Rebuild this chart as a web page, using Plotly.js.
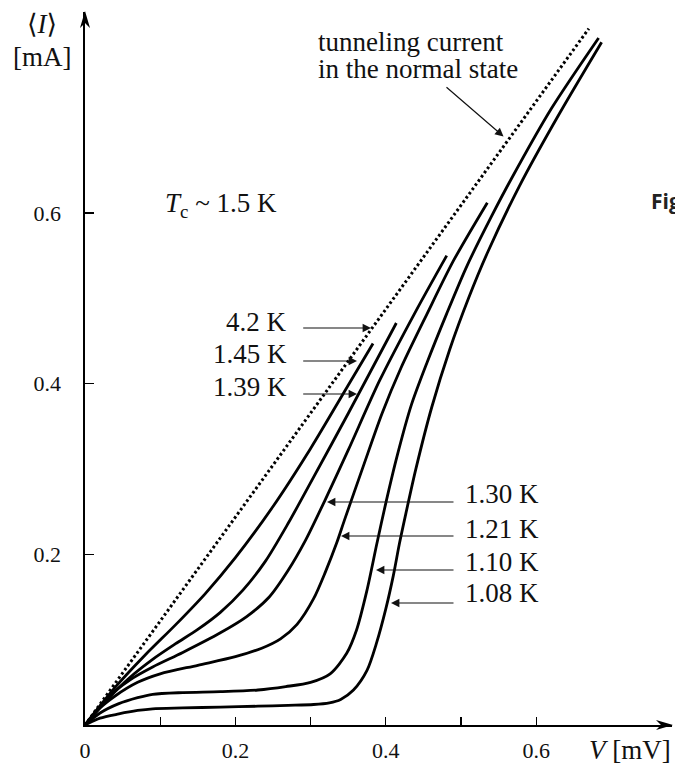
<!DOCTYPE html>
<html><head><meta charset="utf-8">
<script src="https://cdn.plot.ly/plotly-3.0.1.min.js"></script>
<style>html,body{margin:0;padding:0;background:#fff;overflow:hidden;} #chart{width:675px;height:765px;}</style>
</head><body><div id="chart"></div>
<script>
// ---- data (V in mV, I in mA) ----
const V_normal = [0, 0.67];
const I_normal = [0, 0.816];

const V_145 = [0, 0.04, 0.08, 0.12, 0.16, 0.20, 0.25, 0.30, 0.35, 0.383];
const I_145 = [0, 0.044, 0.082, 0.117, 0.154, 0.196, 0.256, 0.324, 0.398, 0.447];

const V_139 = [0, 0.03, 0.06, 0.09, 0.12, 0.15, 0.18, 0.21, 0.24, 0.27, 0.30, 0.35, 0.414];
const I_139 = [0, 0.030, 0.056, 0.077, 0.095, 0.112, 0.132, 0.158, 0.192, 0.236, 0.284, 0.365, 0.471];

const V_130 = [0, 0.03, 0.06, 0.09, 0.13, 0.18, 0.215, 0.245, 0.27, 0.293, 0.32, 0.35, 0.392, 0.44, 0.481];
const I_130 = [0, 0.032, 0.053, 0.068, 0.085, 0.108, 0.127, 0.150, 0.181, 0.216, 0.265, 0.322, 0.404, 0.485, 0.550];

const V_121 = [0, 0.02, 0.04, 0.07, 0.10, 0.15, 0.20, 0.235, 0.26, 0.282, 0.304, 0.32, 0.335, 0.345, 0.37, 0.395, 0.42, 0.455, 0.49, 0.535];
const I_121 = [0, 0.020, 0.034, 0.050, 0.060, 0.070, 0.080, 0.090, 0.101, 0.118, 0.148, 0.180, 0.214, 0.240, 0.303, 0.365, 0.418, 0.482, 0.544, 0.612];

const V_110 = [0, 0.02, 0.045, 0.07, 0.09, 0.13, 0.18, 0.23, 0.267, 0.30, 0.326, 0.348, 0.361, 0.375, 0.388, 0.40, 0.415, 0.434, 0.455, 0.481, 0.508, 0.54, 0.567, 0.62, 0.683];
const I_110 = [0, 0.014, 0.025, 0.032, 0.036, 0.038, 0.039, 0.041, 0.045, 0.050, 0.060, 0.084, 0.111, 0.158, 0.212, 0.260, 0.315, 0.375, 0.425, 0.482, 0.538, 0.595, 0.640, 0.722, 0.805];

const V_108 = [0, 0.02, 0.045, 0.07, 0.09, 0.13, 0.18, 0.23, 0.27, 0.304, 0.325, 0.34, 0.357, 0.375, 0.388, 0.40, 0.41, 0.418, 0.426, 0.44, 0.461, 0.485, 0.51, 0.535, 0.578, 0.63, 0.687];
const I_108 = [0, 0.008, 0.013, 0.017, 0.019, 0.020, 0.021, 0.022, 0.023, 0.024, 0.026, 0.030, 0.041, 0.064, 0.097, 0.136, 0.175, 0.212, 0.245, 0.300, 0.372, 0.440, 0.500, 0.553, 0.632, 0.715, 0.800];

const xTickVals = [0, 0.1, 0.2, 0.3, 0.4, 0.5, 0.6];
const xTickText = ['0', '', '0.2', '', '0.4', '', '0.6'];
const yTickVals = [0.2, 0.4, 0.6];
const yTickText = ['0.2', '0.4', '0.6'];

const tempLabels = ['4.2 K', '1.45 K', '1.39 K', '1.30 K', '1.21 K', '1.10 K', '1.08 K'];

// ---- drawing ----
const SERIF = 'Liberation Serif, Times New Roman, DejaVu Serif, serif';
const W = 675, H = 765;
const M = {l: 85, r: 3, t: 12, b: 40};
const PW = W - M.l - M.r, PH = H - M.t - M.b;
const XMAX = PW / 752;
const YMAX = PH / 853.5;

function curve(x, y) {
  return {x: x, y: y, type: 'scatter', mode: 'lines', hoverinfo: 'skip',
          line: {color: '#000', width: 2.8, shape: 'spline', smoothing: 0.8}, cliponaxis: false};
}
const traces = [
  {x: V_normal, y: I_normal, type: 'scatter', mode: 'lines', hoverinfo: 'skip',
   line: {color: '#000', width: 3, dash: '2.6px,2.6px'}},
  curve(V_145, I_145), curve(V_139, I_139), curve(V_130, I_130),
  curve(V_121, I_121), curve(V_110, I_110), curve(V_108, I_108)
];

// pixel -> axis / paper helpers for label placement
const px2V = px => (px - M.l) / 752;
const py2I = py => (H - M.b - py) / 853.5;
const px2P = px => (px - M.l) / PW;
const py2P = py => (H - M.b - py) / PH;

const annotations = [];
function txt(text, px, py, xanchor, size, extra) {
  annotations.push(Object.assign({text: text, x: px2P(px), y: py2P(py), xref: 'paper', yref: 'paper',
    xanchor: xanchor, yanchor: 'middle', showarrow: false,
    font: {family: SERIF, size: size || 27, color: '#111'}}, extra || {}));
}
function arrow(tailPx, tailPy, tipPx, tipPy) {
  annotations.push({text: '', x: px2V(tipPx), y: py2I(tipPy), ax: px2V(tailPx), ay: py2I(tailPy),
    xref: 'x', yref: 'y', axref: 'x', ayref: 'y', showarrow: true,
    arrowhead: 2, arrowsize: 1.4, arrowwidth: 1.2, arrowcolor: '#111', standoff: 0, startstandoff: 0});
}

// left temperature labels
txt(tempLabels[0], 289, 322.5, 'right'); arrow(301.7, 328, 371, 328);
txt(tempLabels[1], 289, 354, 'right');   arrow(301.7, 361, 357, 361);
txt(tempLabels[2], 289, 387, 'right');   arrow(301.7, 394, 357, 394);
// right temperature labels
txt(tempLabels[3], 463, 494.5, 'left');  arrow(455, 502, 327, 502);
txt(tempLabels[4], 463, 528.5, 'left');  arrow(455, 536, 341, 536);
txt(tempLabels[5], 463, 562, 'left');    arrow(455, 570, 376, 570);
txt(tempLabels[6], 463, 593, 'left');    arrow(455, 603, 391, 603);

// normal state note
txt('tunneling current', 316, 41.5, 'left');
txt('in the normal state', 316, 68.5, 'left');
arrow(445, 86, 503.5, 136.5);

// Tc
txt('<i>T</i><sub>c</sub> ~ 1.5 K', 163, 205, 'left');

// axis titles
txt('\u27E8<i>I</i>\u27E9', 42, 24, 'center');
txt('[mA]', 42, 57, 'center');
txt('<i>V</i> [mV]', 673, 750, 'right');

// cropped caption fragment at right edge
annotations.push({text: '<b>Fig</b>', x: px2P(649), y: py2P(201), xref: 'paper', yref: 'paper',
  xanchor: 'left', yanchor: 'middle', showarrow: false,
  font: {family: 'Open Sans, Liberation Sans, sans-serif', size: 21, color: '#222'}});

// axis arrowheads (paper-referenced so they are not clipped by the plot area)
const shapes = [
  {type: 'path', xref: 'paper', yref: 'paper', xsizemode: 'pixel', ysizemode: 'pixel',
   xanchor: 1, yanchor: 0, path: 'M1,0 L-16,-5 L-11,0 L-16,5 Z',
   fillcolor: '#000', line: {width: 0}, layer: 'above'},
  {type: 'path', xref: 'paper', yref: 'paper', xsizemode: 'pixel', ysizemode: 'pixel',
   xanchor: 0, yanchor: 1, path: 'M0,1 L-5,-16 L0,-11 L5,-16 Z',
   fillcolor: '#000', line: {width: 0}, layer: 'above'}
];

const layout = {
  width: W, height: H, margin: {l: M.l, r: M.r, t: M.t, b: M.b, pad: 0},
  paper_bgcolor: '#fff', plot_bgcolor: '#fff', showlegend: false,
  xaxis: {range: [0, XMAX], showgrid: false, zeroline: false, showline: true, linecolor: '#000', linewidth: 1.7,
          ticks: 'inside', ticklen: 8, tickwidth: 1.3, tickcolor: '#000',
          tickmode: 'array', tickvals: xTickVals, ticktext: xTickText, ticklabelstandoff: 5,
          tickfont: {family: SERIF, size: 22, color: '#111'}, fixedrange: true},
  yaxis: {range: [0, YMAX], showgrid: false, zeroline: false, showline: true, linecolor: '#000', linewidth: 1.7,
          ticks: 'inside', ticklen: 9, tickwidth: 1.3, tickcolor: '#000',
          tickmode: 'array', tickvals: yTickVals, ticktext: yTickText, ticklabelstandoff: 18,
          tickfont: {family: SERIF, size: 22, color: '#111'}, fixedrange: true},
  annotations: annotations,
  shapes: shapes
};

Plotly.newPlot('chart', traces, layout, {displayModeBar: false, staticPlot: true});
</script>
</body></html>
